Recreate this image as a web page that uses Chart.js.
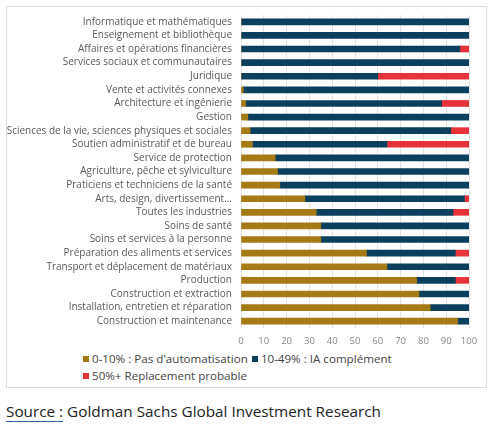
<!DOCTYPE html>
<html>
<head>
<meta charset="utf-8">
<script src="https://cdn.jsdelivr.net/npm/chart.js@4"></script>
<style>
  html, body { margin: 0; padding: 0; background: #fff; }
  body { width: 493px; height: 429px; position: relative; overflow: hidden; font-family: "Open Sans", sans-serif; }
  #frame { position: absolute; left: 6px; top: 6px; width: 479px; height: 380px; border: 1px solid #dcdcdc; }
  #wrap { position: absolute; left: 0; top: 0; width: 493px; height: 350px; }
  #legend { position: absolute; left: 83px; top: 350px; font-size: 11.6px; color: #444; line-height: 17px; width: 340px; }
  #legend span.item { display: inline-block; white-space: nowrap; margin-right: 4px; }
  #legend span.box { display: inline-block; width: 6px; height: 6px; margin-right: 3px; vertical-align: 1px; }
  #source { position: absolute; left: 6px; top: 401px; font-size: 15.3px; color: #222; white-space: nowrap; }
  #source u { text-decoration: none; border-bottom: 1px solid #2a5ca8; }
</style>
</head>
<body>
<div id="frame"></div>
<div id="wrap"><canvas id="c" width="493" height="350"></canvas></div>
<div id="legend"></div>
<div id="source"><u>Source :</u> Goldman Sachs Global Investment Research</div>
<script>
const categories = [
  "Informatique et mathématiques",
  "Enseignement et bibliothèque",
  "Affaires et opérations financières",
  "Services sociaux et communautaires",
  "Juridique",
  "Vente et activités connexes",
  "Architecture et ingénierie",
  "Gestion",
  "Sciences de la vie, sciences physiques et sociales",
  "Soutien administratif et de bureau",
  "Service de protection",
  "Agriculture, pêche et sylviculture",
  "Praticiens et techniciens de la santé",
  "Arts, design, divertissement...",
  "Toutes les industries",
  "Soins de santé",
  "Soins et services à la personne",
  "Préparation des aliments et services",
  "Transport et déplacement de matériaux",
  "Production",
  "Construction et extraction",
  "Installation, entretien et réparation",
  "Construction et maintenance"
];
const seriesNames = ["0-10% : Pas d'automatisation", "10-49% : IA complément", "50%+ Replacement probable"];
const noAutomation = [0, 0, 0, 0, 0, 1, 2, 3, 4, 5, 15, 16, 17, 28, 33, 35, 35, 55, 64, 77, 78, 83, 95];
const aiComplement = [100, 100, 96, 100, 60, 99, 86, 97, 88, 59, 85, 84, 83, 70, 60, 65, 65, 39, 36, 17, 22, 17, 5];
const replacement = [0, 0, 4, 0, 40, 0, 12, 0, 8, 36, 0, 0, 0, 2, 7, 0, 0, 6, 0, 6, 0, 0, 0];
const xTicks = [0, 10, 20, 30, 40, 50, 60, 70, 80, 90, 100];

const colors = ["#A57A14", "#0B3F5E", "#E8323A"];
const FONT = "Open Sans";

const chart = new Chart(document.getElementById("c"), {
  type: "bar",
  data: {
    labels: categories,
    datasets: [
      { label: seriesNames[0], data: noAutomation, backgroundColor: colors[0] },
      { label: seriesNames[1], data: aiComplement, backgroundColor: colors[1] },
      { label: seriesNames[2], data: replacement, backgroundColor: colors[2] }
    ]
  },
  options: {
    indexAxis: "y",
    responsive: false,
    animation: false,
    devicePixelRatio: 1,
    datasets: { bar: { barThickness: 6 } },
    layout: { padding: { top: 13, right: 24, left: 0, bottom: 0 } },
    plugins: { legend: { display: false }, tooltip: { enabled: false } },
    scales: {
      x: {
        stacked: true,
        min: 0, max: 100,
        afterBuildTicks: (s) => { s.ticks = xTicks.map(v => ({ value: v })); },
        afterFit: (s) => { s.height = 22; },
        grid: { color: "#e3e3e3", drawTicks: false, lineWidth: 1 },
        border: { display: false },
        ticks: { padding: 8, color: "#888", font: { family: FONT, size: 9.5 } }
      },
      y: {
        stacked: true,
        afterFit: (s) => { s.width = 241; },
        grid: { display: false, drawTicks: false },
        border: { display: false },
        ticks: { padding: 9, color: "#5a5a5a", font: { family: FONT, size: 10 }, autoSkip: false }
      }
    }
  }
});

const leg = document.getElementById("legend");
seriesNames.forEach((n, i) => {
  const it = document.createElement("span");
  it.className = "item";
  const b = document.createElement("span");
  b.className = "box";
  b.style.background = colors[i];
  it.appendChild(b);
  it.appendChild(document.createTextNode(n));
  leg.appendChild(it);
  if (i === 1) leg.appendChild(document.createElement("br"));
});
</script>
</body>
</html>
